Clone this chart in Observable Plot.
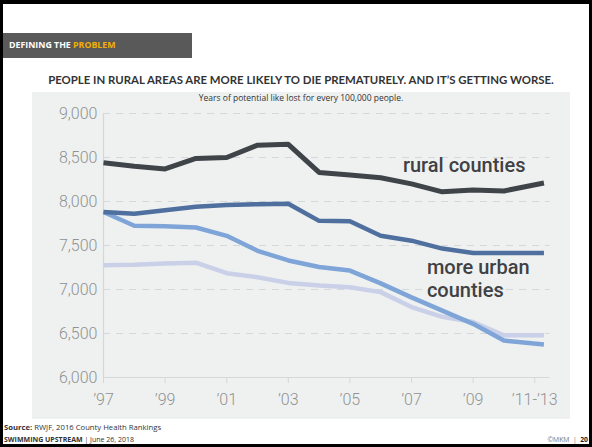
<!DOCTYPE html>
<html>
<head>
<meta charset="utf-8">
<script src="https://cdn.jsdelivr.net/npm/d3@7"></script>
<script src="https://cdn.jsdelivr.net/npm/@observablehq/plot@0.6"></script>
<style>
  html, body { margin: 0; padding: 0; background: #fff; }
  #page { position: relative; width: 592px; height: 447px; overflow: hidden; background: #fff; }
  .bl { position: absolute; background: #000; }
  #hdr { position: absolute; left: 3px; top: 33px; width: 189px; height: 25px; background: #595959;
         font: bold 8.8px "Open Sans", sans-serif; color: #fff; line-height: 25px; padding-left: 6px; box-sizing: border-box; }
  #hdr span { color: #f2b000; }
  #title { position: absolute; left: 0; width: 602px; top: 73px; text-align: center;
           font: bold 11.4px Lato, sans-serif; color: #333; }
  #panel { position: absolute; left: 32px; top: 92px; width: 538px; height: 327px; background: #eff1f1; }
  #sub { position: absolute; left: 32px; width: 538px; top: 92px; text-align: center;
         font: 8.5px "Open Sans", sans-serif; color: #333; }
  #chart { position: absolute; left: 32px; top: 91px; }
  .foot { position: absolute; left: 4px; font-family: "Open Sans", sans-serif; color: #333; white-space: nowrap; }
  #src { top: 422px; font-size: 7.7px; }
  #sw { top: 435px; font-size: 7px; }
  #pg { position: absolute; right: 4px; top: 435px; font: 6.8px "Open Sans", sans-serif; color: #777; }
  #pg b { color: #222; }
</style>
</head>
<body>
<div id="page">
  <div class="bl" style="left:0;top:0;width:592px;height:4px"></div>
  <div class="bl" style="left:0;top:0;width:3px;height:447px"></div>
  <div class="bl" style="right:0;top:0;width:3px;height:447px"></div>
  <div class="bl" style="left:0;bottom:0;width:592px;height:3px"></div>
  <div id="hdr">DEFINING THE <span>PROBLEM</span></div>
  <div id="title">PEOPLE IN RURAL AREAS ARE MORE LIKELY TO DIE PREMATURELY. AND IT’S GETTING WORSE.</div>
  <div id="panel"></div>
  <div id="sub">Years of potential like lost for every 100,000 people.</div>
  <div id="chart"></div>
  <div class="foot" id="src"><b>Source:</b> RWJF, 2016 County Health Rankings</div>
  <div class="foot" id="sw"><b>SWIMMING UPSTREAM</b> | June 26, 2018</div>
  <div id="pg">©MKM &nbsp;| &nbsp;<b>20</b></div>
</div>
<script>
// ---- data ----
const years  = [1997, 1998, 1999, 2000, 2001, 2002, 2003, 2004, 2005, 2006, 2007, 2008, 2009, 2010, 2011.3];
const rural  = [8440, 8400, 8370, 8490, 8500, 8640, 8650, 8330, 8300, 8270, 8200, 8110, 8130, 8120, 8210];
const urbanA = [7880, 7860, 7900, 7940, 7960, 7970, 7975, 7780, 7775, 7610, 7555, 7465, 7415, 7415, 7415];
const urbanB = [7880, 7725, 7720, 7705, 7610, 7440, 7330, 7255, 7215, 7070, 6910, 6760, 6610, 6420, 6375];
const urbanC = [7275, 7280, 7295, 7305, 7185, 7140, 7075, 7045, 7025, 6970, 6800, 6690, 6630, 6480, 6480];
const seriesNames  = ["urbanC", "urbanB", "urbanA", "rural"];
const seriesValues = { urbanC, urbanB, urbanA, rural };
const seriesColors = { urbanC: "#c9d0e8", urbanB: "#7fa5d8", urbanA: "#4f6f9e", rural: "#3f4449" };
const yTicks = [6000, 6500, 7000, 7500, 8000, 8500, 9000];
const xTicks = [1997, 1999, 2001, 2003, 2005, 2007, 2009, 2011];
const xTickLabels = ["’97", "’99", "’01", "’03", "’05", "’07", "’09", "’11-’13"];
const labelTexts = ["rural counties", "more urban\ncounties"];
const labelX = [2006.72, 2007.5];
const labelY = [8340, 6918];

const rows = seriesNames.flatMap(s => years.map((yr, i) => ({ series: s, year: yr, value: seriesValues[s][i] })));
const labels = labelTexts.map((t, i) => ({ text: t, x: labelX[i], y: labelY[i] }));
const xLabelMap = new Map(xTicks.map((t, i) => [t, xTickLabels[i]]));

const chart = Plot.plot({
  width: 538,
  height: 328,
  marginLeft: 71,
  marginRight: 20.4,
  marginTop: 22,
  marginBottom: 42,
  style: { background: "transparent", overflow: "visible" },
  x: { domain: [1997, 2011.5] },
  y: { domain: [6000, 9000] },
  marks: [
    Plot.ruleY(yTicks.filter(d => d > 6000), { stroke: "#d3d8d8", strokeWidth: 1.2, strokeDasharray: "7,6" }),
    Plot.ruleY([6000], { stroke: "#d3d8d8", strokeWidth: 1.2 }),
    Plot.ruleX([1997], { stroke: "#d3d8d8", strokeWidth: 1.2 }),
    Plot.axisY({ ticks: yTicks, tickFormat: d3.format(","), tickSize: 0, tickPadding: 6,
                 fontSize: 16, fontFamily: "Roboto", fontWeight: 300, fill: "#8f9292", label: null }),
    Plot.axisX({ ticks: xTicks, tickFormat: d => xLabelMap.get(d), tickSize: 6, tickPadding: 10,
                 stroke: "#d3d8d8", fontSize: 16, fontFamily: "Roboto", fontWeight: 300, fill: "#8f9292", label: null }),
    Plot.line(rows, { x: "year", y: "value", z: "series", stroke: d => seriesColors[d.series],
                      strokeWidth: d => d.series === "rural" ? 5 : 4.5, strokeLinejoin: "round", strokeLinecap: "butt" }),
    Plot.text(labels, { x: "x", y: "y", text: "text", textAnchor: "start", lineAnchor: "bottom",
                        fontSize: 20, fontFamily: "Roboto", fontWeight: 500, fill: "#3f4144", lineHeight: 1.15 })
  ]
});
document.getElementById("chart").appendChild(chart);
</script>
</body>
</html>
